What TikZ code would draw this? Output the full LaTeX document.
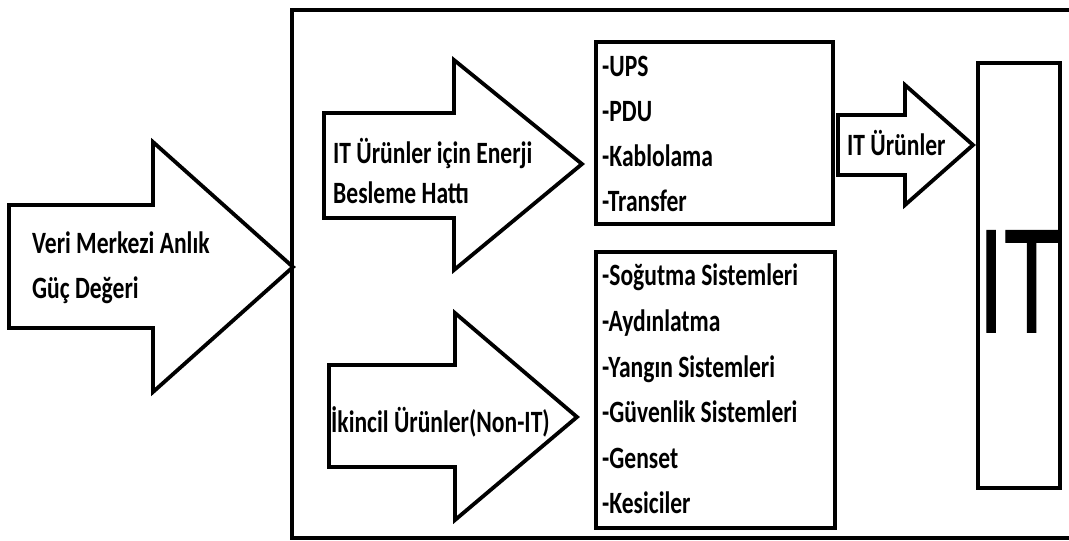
\documentclass[tikz,border=0pt]{standalone}
\usepackage{fontspec}
\setmainfont{Carlito}[FakeStretch=0.76]
\newfontfamily\itfont{Liberation Sans}[FakeBold=1.2]
\begin{document}
\begin{tikzpicture}[x=1pt,y=-1pt,
  shp/.style={draw=black,line width=3.8pt,fill=white,line join=miter},
  lbl/.style={anchor=base west,inner sep=0pt,font=\fontsize{31}{34}\selectfont\bfseries},
  box/.style={draw=black,line width=3.8pt,fill=white}]
\useasboundingbox (0,0) rectangle (1069,541);
\fill[white] (0,0) rectangle (1069,541);
% outer frame
\draw[line width=3.4pt] (292,10) rectangle (1085,538);
% arrows
\draw[shp] (9,205) -- (153,205) -- (153,142) -- (293,267) -- (153,392) -- (153,328) -- (9,328) -- cycle;
\draw[shp] (324,113) -- (454,113) -- (454,60) -- (582,164) -- (454,270) -- (454,218) -- (324,218) -- cycle;
\draw[shp] (329,365) -- (455,365) -- (455,313) -- (577,417) -- (455,520) -- (455,467) -- (329,467) -- cycle;
\draw[shp] (838,115) -- (905,115) -- (905,85) -- (973,145) -- (905,205) -- (905,175) -- (838,175) -- cycle;
% boxes
\draw[box] (596,42) rectangle (833,224);
\draw[box] (596,252) rectangle (835,528);
\draw[box] (978,63) rectangle (1060,488);
% labels
\node[lbl] (v1) at (32,253) {Veri Merkezi Anlık};
\node[lbl] (v2) at (32,298) {Güç Değeri};
\node[lbl] (e1) at (333,163) {IT Ürünler için Enerji};
\node[lbl] (e2) at (333,203) {Besleme Hattı};
\node[lbl] (n1) at (331,432) {İkincil Ürünler(Non-IT)};
\node[lbl] (it1) at (847,155) {IT Ürünler};
\node[lbl] (u1) at (602,76) {-UPS};
\node[lbl] (u2) at (602,121) {-PDU};
\node[lbl] (u3) at (602,166) {-Kablolama};
\node[lbl] (u4) at (602,211) {-Transfer};
\node[lbl] (s1) at (602,285) {-Soğutma Sistemleri};
\node[lbl] (s2) at (602,331) {-Aydınlatma};
\node[lbl] (s3) at (602,377) {-Yangın Sistemleri};
\node[lbl] (s4) at (602,422) {-Güvenlik Sistemleri};
\node[lbl] (s5) at (602,468) {-Genset};
\node[lbl] (s6) at (602,513) {-Kesiciler};
\node[anchor=base,inner sep=0pt] (itbig) at (1019,332) {\scalebox{0.62}[1]{\itfont\fontsize{147}{147}\selectfont IT}};
\end{tikzpicture}
\end{document}
